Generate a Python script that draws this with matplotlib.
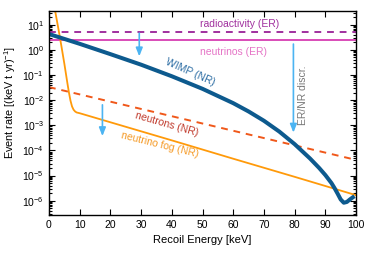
import numpy as np
import matplotlib
matplotlib.use("Agg")
import matplotlib.pyplot as plt
from matplotlib.ticker import LogLocator, NullFormatter, MultipleLocator

plt.rcParams['font.family'] = ['Liberation Sans', 'DejaVu Sans']
plt.rcParams['mathtext.fontset'] = 'custom'
plt.rcParams['mathtext.rm'] = 'Liberation Sans'

# WIMP (NR) spectrum, log10 of rate
wimp_E = [0, 10, 20, 30, 40, 50, 60, 65, 70, 75, 80, 85, 88, 90, 92, 93, 94, 95, 96, 97, 98, 99, 99.5]
wimp_log = [0.63, 0.24, -0.17, -0.59, -1.05, -1.55, -2.12, -2.45, -2.82, -3.25, -3.75, -4.32,
            -4.70, -4.98, -5.30, -5.50, -5.72, -5.95, -6.08, -6.05, -5.95, -5.86, -5.82]

# neutrino fog (NR)
fog_E = [1.5, 2, 3, 4, 5, 6, 6.5, 7, 7.5, 8, 8.5, 9, 10, 20, 40, 60, 80, 100]
fog_log = [1.9, 1.55, 0.88, 0.18, -0.55, -1.33, -1.70, -2.02, -2.25, -2.38, -2.45, -2.49,
           -2.52, -2.88, -3.60, -4.33, -5.05, -5.78]

# neutrons (NR)
neutron_E = [0, 100]
neutron_rate = [0.033, 4.2e-5]

# flat ER backgrounds
radio_rate = 5.0
nu_er_rate = 2.4

# arrows: (energy, start, end)
arrows = [(29.4, 4.6, 0.55), (17.4, 6.5e-3, 3.7e-4), (79.6, 1.7, 5.1e-4)]

fig = plt.figure(figsize=(3.74, 2.63), dpi=100)
ax = fig.add_axes([0.131, 0.1825, 0.821, 0.7755])

c_wimp = '#0d5a8e'
c_fog = '#ff9a0a'
c_neu = '#f0581a'
c_radio = '#a0309e'
c_nuer = '#d94cb8'
c_arrow = '#4cb4f2'

ax.axhline(radio_rate, color=c_radio, lw=1.4, ls=(0, (3.5, 3)))
ax.axhline(nu_er_rate, color=c_nuer, lw=1.4)
ax.plot(neutron_E, neutron_rate, color=c_neu, lw=1.4, ls=(0, (3.5, 3)))
ax.plot(fog_E, 10 ** np.array(fog_log), color=c_fog, lw=1.3)
ax.plot(wimp_E, 10 ** np.array(wimp_log), color=c_wimp, lw=2.9, solid_capstyle='butt')

for e, y0, y1 in arrows:
    ax.annotate('', xy=(e, y1), xytext=(e, y0),
                arrowprops=dict(arrowstyle='-|>,head_length=0.5,head_width=0.2',
                                color=c_arrow, lw=1.2, shrinkA=0, shrinkB=0))

fs = 7.5
ax.text(62.2, 11, 'radioactivity (ER)', color=c_radio, fontsize=fs, ha='center', va='center')
ax.text(60, 0.85, 'neutrinos (ER)', color='#e574c6', fontsize=fs, ha='center', va='center')
ax.text(45.9, 0.13, 'WIMP (NR)', color='#2b6ca3', fontsize=fs, ha='center', va='center',
        rotation=-24, rotation_mode='anchor')
ax.text(38.5, 1.1e-3, 'neutrons (NR)', color='#c0392b', fontsize=fs, ha='center', va='center',
        rotation=-16, rotation_mode='anchor')
ax.text(36.2, 1.65e-4, 'neutrino fog (NR)', color='#f59a26', fontsize=fs, ha='center', va='center',
        rotation=-14, rotation_mode='anchor')
ax.text(82.8, 1.6e-2, 'ER/NR discr.', color='#777777', fontsize=fs, ha='center', va='center',
        rotation=90)

ax.set_yscale('log')
ax.set_xlim(0, 100)
ax.set_ylim(2.7e-7, 35)
ax.xaxis.set_major_locator(MultipleLocator(10))
ax.yaxis.set_major_locator(LogLocator(base=10, numticks=20))
ax.yaxis.set_minor_locator(LogLocator(base=10, subs=np.arange(2, 10), numticks=20))
ax.yaxis.set_minor_formatter(NullFormatter())
ax.tick_params(which='both', direction='in', top=True, right=True, labelsize=7.5, width=0.8)
ax.tick_params(which='major', length=4)
ax.tick_params(which='minor', length=2)
for s in ax.spines.values():
    s.set_linewidth(1.0)

ax.set_xlabel('Recoil Energy [keV]', fontsize=8)
ax.set_ylabel('Event rate [(keV t yr)$^{-1}$]', fontsize=7.8)
ax.yaxis.set_label_coords(-0.1, 0.55)

fig.savefig('out.png', dpi=100)
